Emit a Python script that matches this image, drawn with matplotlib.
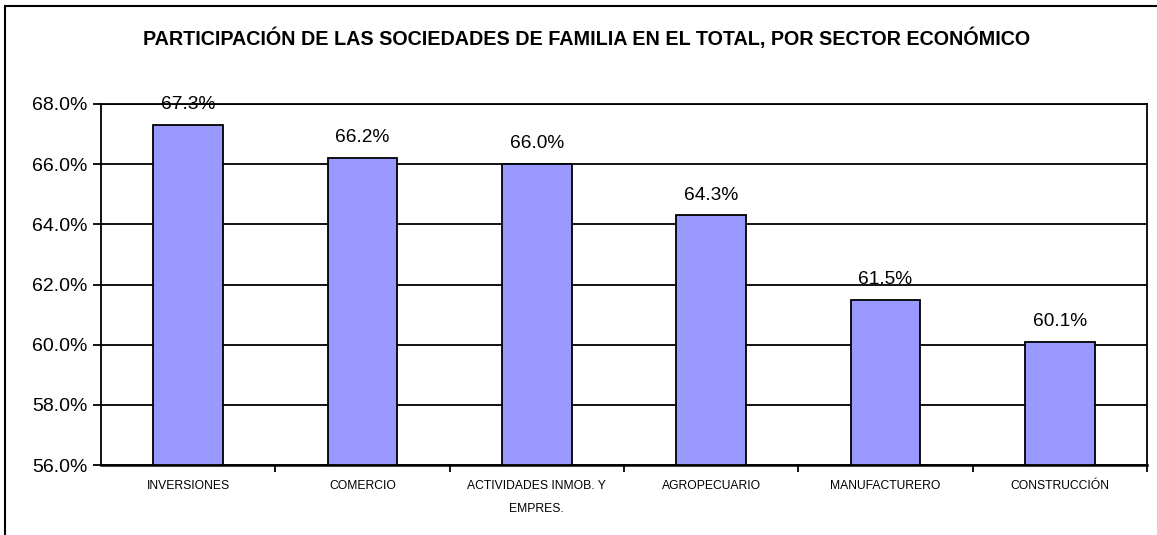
import matplotlib.pyplot as plt
from matplotlib.patches import Rectangle
from matplotlib.ticker import FixedLocator, FuncFormatter

plt.rcParams['font.family'] = ['Liberation Sans', 'DejaVu Sans']

sectores = ['INVERSIONES', 'COMERCIO', 'ACTIVIDADES INMOB. Y\nEMPRES.',
            'AGROPECUARIO', 'MANUFACTURERO', 'CONSTRUCCIÓN']
participacion = [67.3, 66.2, 66.0, 64.3, 61.5, 60.1]
ticks_y = [56, 58, 60, 62, 64, 66, 68]

fig = plt.figure(figsize=(11.57, 5.35), dpi=100)
ax = fig.add_axes([101/1157, 1 - 465/535, (1147-101)/1157, (465-104)/535])

# outer chart border (only left/top visible in the crop)
fig.patches.append(Rectangle((5/1157, -0.1), 1.2, 1 - 6/535 + 0.1,
                             transform=fig.transFigure, fill=False,
                             edgecolor='black', linewidth=1.5))

x = list(range(len(sectores)))
ax.set_axisbelow(True)
ax.yaxis.grid(True, color='black', linewidth=1.3)
ax.bar(x, [v - 56 for v in participacion], bottom=56, width=0.4,
       color='#9999FF', edgecolor='black', linewidth=1.3, zorder=3)

for xi, v in zip(x, participacion):
    ax.annotate(f'{v:.1f}%', (xi, v), xytext=(0, 8.5), textcoords='offset points',
                ha='center', va='bottom', fontsize=13.8, zorder=4)

ax.set_xlim(-0.5, len(sectores) - 0.5)
ax.set_ylim(56, 68)
ax.yaxis.set_major_locator(FixedLocator(ticks_y))
ax.yaxis.set_major_formatter(FuncFormatter(lambda v, p: f'{v:.1f}%'))
ax.tick_params(axis='y', labelsize=14, length=6, width=1.3, direction='out', pad=4)

ax.set_xticks(x)
ax.set_xticklabels(sectores, fontsize=8.7, linespacing=2.2, va='top')
ax.tick_params(axis='x', which='major', length=0, pad=11)
ax.set_xticks([i + 0.5 for i in x], minor=True)
ax.tick_params(axis='x', which='minor', length=5, width=1.3, direction='out')

for s in ax.spines.values():
    s.set_linewidth(1.3)
ax.spines['bottom'].set_linewidth(1.8)

fig.text(0.507, 1 - 38/535, 'PARTICIPACIÓN DE LAS SOCIEDADES DE FAMILIA EN EL TOTAL, POR SECTOR ECONÓMICO',
         ha='center', va='center', fontsize=14.2, fontweight='bold')

fig.savefig('out.png', dpi=100)
